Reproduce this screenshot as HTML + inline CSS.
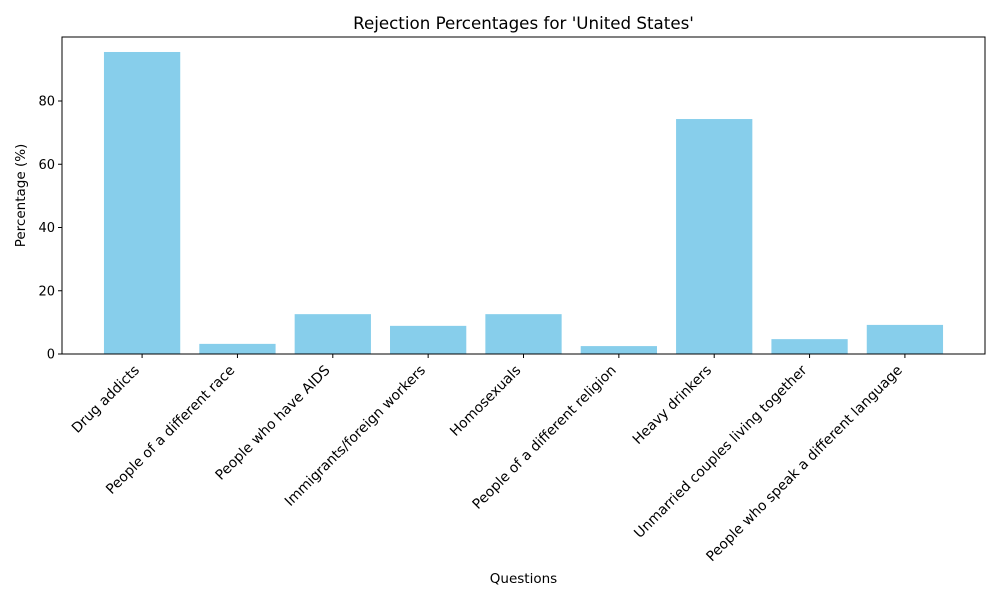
<!DOCTYPE html>
<html><head><meta charset="utf-8"><style>
body{margin:0;background:#fff;font-family:"Liberation Sans","DejaVu Sans",sans-serif}
</style></head><body>
<svg id="chart" width="1000" height="600" xmlns="http://www.w3.org/2000/svg" font-family="'DejaVu Sans','Liberation Sans',sans-serif">
<rect width="1000" height="600" fill="#fff"/>
<text x="523.5" y="29" font-size="16.7" text-anchor="middle">Rejection Percentages for 'United States'</text>
<g id="plot"></g>
<rect x="62" y="37" width="923" height="317" fill="none" stroke="#000" stroke-width="1"/>
<text x="523.5" y="583" font-size="13.5" text-anchor="middle">Questions</text>
<text transform="translate(25,195.5) rotate(-90)" font-size="13.5" text-anchor="middle">Percentage (%)</text>
</svg>
<script>
const categories = ["Drug addicts","People of a different race","People who have AIDS","Immigrants/foreign workers","Homosexuals","People of a different religion","Heavy drinkers","Unmarried couples living together","People who speak a different language"];
const values = [95.5,3.2,12.6,8.9,12.6,2.5,74.3,4.7,9.2];
const yTicks = [0,20,40,60,80];
const L=62,R=985,T=37,B=354,yMax=100.24;
const n=categories.length, band=(R-L)/(n-1+0.8+0.88);
const x=i=>L+band*(0.44+0.4+i);
const y=v=>B-(v/yMax)*(B-T);
const g=document.getElementById('plot');
const NS="http://www.w3.org/2000/svg";
function mk(t,a){const e=document.createElementNS(NS,t);for(const k in a)e.setAttribute(k,a[k]);return e;}
values.forEach((v,i)=>{
 const r=mk('rect',{x:x(i)-0.4*band,y:y(v),width:0.8*band,height:B-y(v),fill:'#87ceeb'});
 
 
 g.appendChild(r);
 const tk=mk('line',{x1:x(i),x2:x(i),y1:B,y2:B+4,stroke:'#000'});
 
 
 g.appendChild(tk);
 const tx=mk('text',{transform:`translate(${x(i)-2},${B+17}) rotate(-45)`,'font-size':13.9,'text-anchor':'end'});
 tx.textContent=categories[i];
 
 
 g.appendChild(tx);
});
yTicks.forEach(t=>{
 const tk=mk('line',{x1:L-4,x2:L,y1:y(t),y2:y(t),stroke:'#000'});
 
 
 g.appendChild(tk);
 const tx=mk('text',{x:L-7,y:y(t)+4.5,'font-size':13,'text-anchor':'end'});
 tx.textContent=t;
 
 
 g.appendChild(tx);
});
</script>
</body></html>
